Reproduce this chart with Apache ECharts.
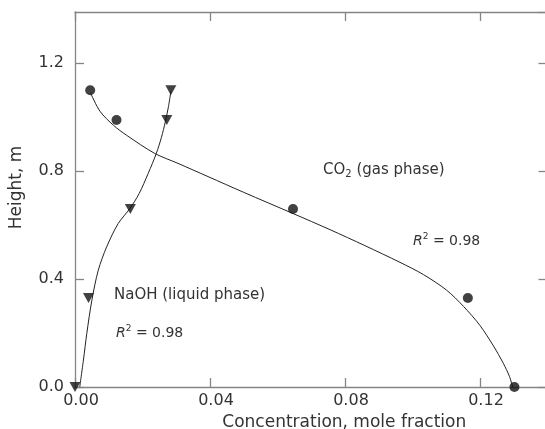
<!DOCTYPE html>
<html>
<head>
<meta charset="utf-8">
<script src="https://cdn.jsdelivr.net/npm/echarts@6/dist/echarts.min.js"></script>
<style>
  html, body { margin: 0; padding: 0; background: #fff; }
  #chart { width: 545px; height: 429px; }
</style>
</head>
<body>
<div id="chart"></div>
<script>
  // measured points
  const co2X = [0.0045, 0.0123, 0.0646, 0.1164, 0.1302]
  const co2Y = [1.10, 0.99, 0.66, 0.33, 0.0]
  const naohX = [0.0, 0.0040, 0.0164, 0.0272, 0.0284]
  const naohY = [0.0, 0.33, 0.66, 0.99, 1.10]

  // fitted curves
  const co2FitX = [0.0046, 0.0074, 0.0114, 0.0153, 0.0236, 0.0305, 0.0394, 0.0499, 0.0646, 0.0756, 0.0859, 0.0963, 0.1032, 0.1101, 0.1151, 0.1200, 0.1240, 0.1269, 0.1287, 0.1297]
  const co2FitY = [1.09, 1.022, 0.970, 0.933, 0.866, 0.829, 0.780, 0.722, 0.643, 0.583, 0.524, 0.462, 0.417, 0.359, 0.299, 0.228, 0.152, 0.088, 0.040, 0.0]
  const naohFitX = [0.0014, 0.0025, 0.0035, 0.0050, 0.0069, 0.0094, 0.0128, 0.0163, 0.0190, 0.0217, 0.0241, 0.0256, 0.0268, 0.0277, 0.0284]
  const naohFitY = [0.0, 0.100, 0.199, 0.322, 0.433, 0.520, 0.606, 0.662, 0.717, 0.792, 0.866, 0.925, 0.985, 1.040, 1.095]

  const xTicks = [0, 0.04, 0.08, 0.12]
  const yTicks = [0, 0.4, 0.8, 1.2]

  const font = 'DejaVu Sans'
  const axisColor = '#858585'
  const textColor = '#333'

  const zip = (xs, ys) => xs.map((x, i) => [x, ys[i]])

  const chart = echarts.init(document.getElementById('chart'), null, { renderer: 'canvas' })

  const axisLine = { show: true, onZero: false, lineStyle: { color: axisColor, width: 1.3 } }
  const axisTick = { show: true, inside: true, length: 9, lineStyle: { color: axisColor, width: 1.3 } }

  const baseX = {
    type: 'value', min: 0, max: 0.14, interval: 0.04,
    splitLine: { show: false }, axisLine, axisTick
  }
  const baseY = {
    type: 'value', min: 0, max: 1.39, interval: 0.4,
    splitLine: { show: false }, axisLine, axisTick
  }

  const r2Text = (x, y) => ({
    type: 'text', x, y,
    style: {
      text: '{i|R}{sup|2} = 0.98',
      fontFamily: font, fontSize: 14, fill: textColor, verticalAlign: 'middle',
      rich: {
        i: { fontFamily: font, fontSize: 14, fontStyle: 'italic', fill: textColor },
        sup: { fontFamily: font, fontSize: 9, fill: textColor, padding: [0, 0, 9, 0] }
      }
    }
  })

  chart.setOption({
    animation: false,
    grid: { left: 75, top: 12, right: -2.5, bottom: 42, outerBoundsMode: 'none' },
    xAxis: [
      Object.assign({}, baseX, {
        position: 'bottom',
        name: 'Concentration, mole fraction',
        nameLocation: 'middle',
        nameGap: 22,
        nameTextStyle: { fontFamily: font, fontSize: 17, color: textColor, padding: [0, 0, 0, 66] },
        axisLabel: {
          fontFamily: font, fontSize: 16, color: textColor, margin: 6,
          padding: [0, 0, 0, 12],
          showMaxLabel: false,
          formatter: v => xTicks.some(t => Math.abs(t - v) < 1e-9) ? v.toFixed(2) : ''
        }
      }),
      Object.assign({}, baseX, { position: 'top', axisLabel: { show: false } })
    ],
    yAxis: [
      Object.assign({}, baseY, {
        position: 'left',
        name: 'Height, m',
        nameLocation: 'middle',
        nameGap: 50,
        nameTextStyle: { fontFamily: font, fontSize: 17, color: textColor, padding: [0, 0, 0, 24] },
        axisLabel: {
          fontFamily: font, fontSize: 16, color: textColor, margin: 11,
          showMaxLabel: false,
          formatter: v => yTicks.some(t => Math.abs(t - v) < 1e-9) ? v.toFixed(1) : ''
        }
      }),
      Object.assign({}, baseY, { position: 'right', axisLabel: { show: false } })
    ],
    series: [
      {
        name: 'CO2 fit', type: 'line', data: zip(co2FitX, co2FitY),
        smooth: 0.3, showSymbol: false, symbol: 'none',
        lineStyle: { color: '#222', width: 1 }, z: 2
      },
      {
        name: 'NaOH fit', type: 'line', data: zip(naohFitX, naohFitY),
        smooth: 0.3, showSymbol: false, symbol: 'none',
        lineStyle: { color: '#222', width: 1 }, z: 2
      },
      {
        name: 'CO2', type: 'scatter', data: zip(co2X, co2Y),
        symbol: 'circle', symbolSize: 10, clip: false,
        itemStyle: { color: '#111' }, z: 3
      },
      {
        name: 'NaOH', type: 'scatter', data: zip(naohX, naohY),
        symbol: 'triangle', symbolRotate: 180, symbolSize: [11, 10], clip: false,
        itemStyle: { color: '#111' }, z: 3
      }
    ],
    graphic: [
      {
        type: 'text', x: 323, y: 170,
        style: {
          text: 'CO{sub|2} (gas phase)',
          fontFamily: font, fontSize: 15, fill: textColor, verticalAlign: 'middle',
          rich: { sub: { fontFamily: font, fontSize: 10, fill: textColor, padding: [8, 0, 0, 0] } }
        }
      },
      r2Text(413, 241),
      {
        type: 'text', x: 114, y: 295,
        style: { text: 'NaOH (liquid phase)', fontFamily: font, fontSize: 15, fill: textColor, verticalAlign: 'middle' }
      },
      r2Text(116, 333)
    ]
  })
</script>
</body>
</html>
